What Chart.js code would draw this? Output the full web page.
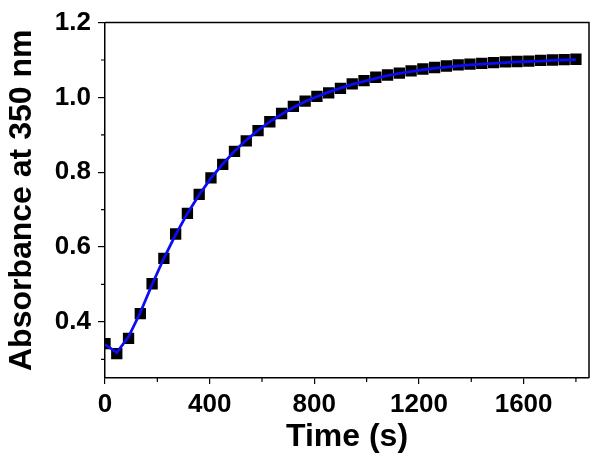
<!DOCTYPE html>
<html>
<head>
<meta charset="utf-8">
<script src="https://cdn.jsdelivr.net/npm/chart.js@4.4.1/dist/chart.umd.min.js"></script>
<style>
  html, body { margin: 0; padding: 0; background: #fff; }
  #wrap { width: 602px; height: 465px; }
</style>
</head>
<body>
<div id="wrap"><canvas id="chart"></canvas></div>
<script>
// time points (s), measured every 45 s
const times = [0, 45, 90, 135, 180, 225, 270, 315, 360, 405, 450, 495, 540, 585, 630, 675, 720, 765, 810, 855,
  900, 945, 990, 1035, 1080, 1125, 1170, 1215, 1260, 1305, 1350, 1395, 1440, 1485, 1530, 1575, 1620, 1665, 1710, 1755, 1800];
// measured absorbance at 350 nm
const absorbance = [0.342, 0.315, 0.356, 0.422, 0.502, 0.570, 0.635, 0.690, 0.741, 0.785, 0.821, 0.856, 0.884, 0.911,
  0.935, 0.957, 0.976, 0.990, 1.003, 1.012, 1.024, 1.036, 1.045, 1.054, 1.060, 1.065, 1.071, 1.076, 1.080, 1.084,
  1.087, 1.089, 1.091, 1.093, 1.095, 1.096, 1.097, 1.099, 1.100, 1.101, 1.102];
// fitted curve
const fitValues = [0.340, 0.318, 0.360, 0.425, 0.500, 0.570, 0.633, 0.690, 0.740, 0.784, 0.822, 0.856, 0.886, 0.912,
  0.935, 0.955, 0.973, 0.989, 1.002, 1.014, 1.025, 1.035, 1.043, 1.051, 1.058, 1.064, 1.069, 1.074, 1.078, 1.081,
  1.084, 1.087, 1.089, 1.091, 1.093, 1.095, 1.096, 1.097, 1.099, 1.100, 1.101];
// tick labels and minor ticks
const xTicks = [0, 400, 800, 1200, 1600];
const xMinor = [200, 600, 1000, 1400, 1800];
const yTicks = [0.4, 0.6, 0.8, 1.0, 1.2];
const yMinor = [0.3, 0.5, 0.7, 0.9, 1.1];

const FONT = "'Liberation Sans', Arial, sans-serif";

//draws the top/right frame and short minor ticks
const frame = {
  id: "frame",
  afterDraw(chart) {
    const { ctx, chartArea: a, scales } = chart;
    ctx.save();
    ctx.strokeStyle = "#000";
    ctx.lineWidth = 1.5;
    ctx.beginPath();
    ctx.moveTo(a.left, a.top);
    ctx.lineTo(a.right, a.top);
    ctx.lineTo(a.right, a.bottom);
    ctx.stroke();
    ctx.lineWidth = 1.2;
    ctx.beginPath();
    for (const v of xMinor) {
      const px = scales.x.getPixelForValue(v);
      ctx.moveTo(px, a.bottom);
      ctx.lineTo(px, a.bottom + 4);
    }
    for (const v of yMinor) {
      const py = scales.y.getPixelForValue(v);
      ctx.moveTo(a.left, py);
      ctx.lineTo(a.left - 4, py);
    }
    ctx.stroke();
    ctx.restore();
  },
};

new Chart(document.getElementById("chart"), {
  type: "line",
  plugins: [frame],
  data: {
    datasets: [
      {
        label: "fit",
        data: times.map((t, i) => ({ x: t, y: fitValues[i] })),
        borderColor: "#0d0df2",
        borderWidth: 2.8,
        pointRadius: 0,
        tension: 0,
        clip: 0,
      },
      {
        label: "data",
        data: times.map((t, i) => ({ x: t, y: absorbance[i] })),
        showLine: false,
        pointStyle: "rect",
        pointRadius: 8,
        pointBackgroundColor: "#000",
        pointBorderWidth: 0,
        clip: 0,
      },
    ],
  },
  options: {
    responsive: true,
    maintainAspectRatio: false,
    animation: false,
    layout: { padding: { top: 22, right: 13, left: 0, bottom: 0 } },
    plugins: { legend: { display: false }, tooltip: { enabled: false } },
    scales: {
      x: {
        type: "linear",
        min: 0,
        max: 1850,
        afterBuildTicks: (s) => { s.ticks = xTicks.map((v) => ({ value: v })); },
        afterFit: (s) => { s.height = 87; },
        grid: { drawOnChartArea: false, drawTicks: true, tickLength: 6, color: "#000", lineWidth: 1.2 },
        border: { display: true, color: "#000", width: 1.5 },
        ticks: {
          color: "#000",
          padding: 5,
          maxRotation: 0,
          font: { family: FONT, size: 26, weight: "bold" },
          callback: (v) => String(v),
        },
        title: {
          display: true,
          text: "Time (s)",
          color: "#000",
          padding: { top: 0, bottom: 9 },
          font: { family: FONT, size: 32, weight: "bold" },
        },
      },
      y: {
        min: 0.25,
        max: 1.2,
        afterBuildTicks: (s) => { s.ticks = yTicks.map((v) => ({ value: v })); },
        afterFit: (s) => { s.width = 105; },
        grid: { drawOnChartArea: false, drawTicks: true, tickLength: 7, color: "#000", lineWidth: 1.2 },
        border: { display: true, color: "#000", width: 1.5 },
        ticks: {
          color: "#000",
          padding: 7,
          font: { family: FONT, size: 26, weight: "bold" },
          callback: (v) => Number(v).toFixed(1),
        },
        title: {
          display: true,
          text: "Absorbance at 350 nm",
          color: "#000",
          padding: { top: 3, bottom: 0 },
          font: { family: FONT, size: 32, weight: "bold" },
        },
      },
    },
  },
});
</script>
</body>
</html>
